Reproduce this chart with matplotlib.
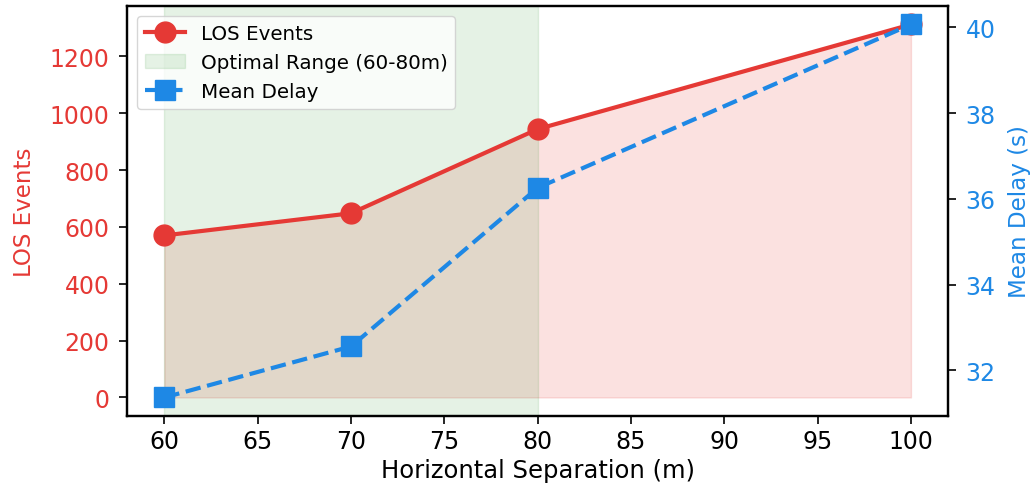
import matplotlib.pyplot as plt

sep = [60, 70, 80, 100]
los_events = [570, 648, 944, 1312]
mean_delay = [31.37, 32.56, 36.26, 40.07]
opt_range = (60, 80)

red = '#e53935'
blue = '#1e88e5'

plt.rcParams['font.size'] = 17
plt.rcParams['xtick.major.size'] = 5.5
plt.rcParams['ytick.major.size'] = 5.5
plt.rcParams['xtick.major.width'] = 1.2
plt.rcParams['ytick.major.width'] = 1.2

fig, ax1 = plt.subplots(figsize=(10.33, 4.89), dpi=100)

l1, = ax1.plot(sep, los_events, '-o', color=red, lw=3, ms=15, label='LOS Events')
ax1.fill_between(sep, los_events, color=red, alpha=0.15)
span = ax1.axvspan(opt_range[0], opt_range[1], color='green', alpha=0.1,
                   label='Optimal Range (60-80m)')
ax1.set_xlabel('Horizontal Separation (m)', fontsize=17.5)
ax1.set_ylabel('LOS Events', color=red, fontsize=16.6, labelpad=10)
ax1.tick_params(axis='y', labelcolor=red, pad=7)

ax2 = ax1.twinx()
l2, = ax2.plot(sep, mean_delay, '--s', color=blue, lw=3, ms=14, label='Mean Delay')
ax2.set_ylabel('Mean Delay (s)', color=blue, fontsize=16.6, labelpad=9)
ax2.tick_params(axis='y', labelcolor=blue, pad=7)

for a in (ax1, ax2):
    for s in a.spines.values():
        s.set_linewidth(1.6)

ax1.legend([l1, span, l2], [l1.get_label(), span.get_label(), l2.get_label()],
           loc='upper left', fontsize=14.3)

fig.subplots_adjust(left=0.123, right=0.918, top=0.986, bottom=0.147)
fig.savefig('out.png')
